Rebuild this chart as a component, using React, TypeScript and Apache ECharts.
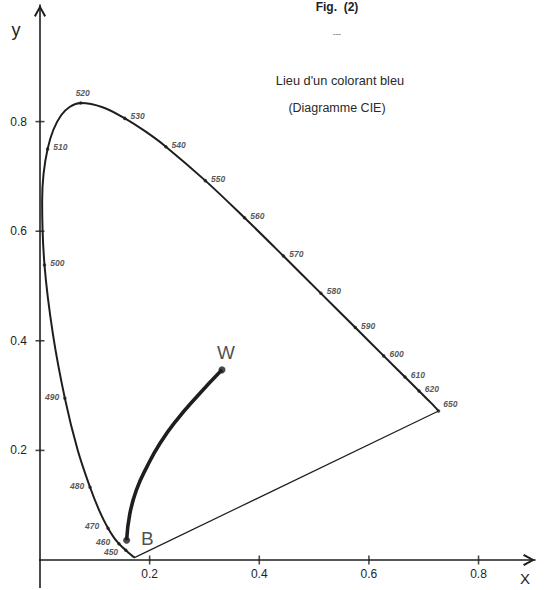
import React, { useEffect, useRef } from "react";
import * as echarts from "echarts";

// Spectral locus of the CIE 1931 diagram (wavelength in nm, chromaticity x, y)
const locusNm = [400, 420, 440, 450, 455, 460, 465, 470, 475, 480, 485, 490, 495, 500, 505, 510, 515, 520, 525, 530, 535, 540, 550, 560, 570, 580, 590, 600, 610, 620, 630, 640, 650];
const locusX = [0.1733, 0.1714, 0.1644, 0.1566, 0.151, 0.144, 0.1355, 0.1241, 0.1096, 0.0913, 0.0687, 0.0454, 0.0235, 0.0082, 0.0039, 0.0139, 0.0389, 0.0743, 0.1142, 0.1547, 0.1929, 0.2296, 0.3016, 0.3731, 0.4441, 0.5125, 0.5752, 0.627, 0.6658, 0.6915, 0.7079, 0.719, 0.727];
const locusY = [0.0048, 0.0051, 0.0109, 0.0177, 0.0227, 0.0297, 0.0399, 0.0578, 0.0868, 0.1327, 0.2007, 0.295, 0.4127, 0.5384, 0.6548, 0.7502, 0.812, 0.8338, 0.8262, 0.8059, 0.7816, 0.7543, 0.6923, 0.6245, 0.5547, 0.4866, 0.4242, 0.3725, 0.334, 0.3083, 0.292, 0.2809, 0.272];

// Wavelengths that carry a dot and a label on the locus
const markedNm = [450, 460, 470, 480, 490, 500, 510, 520, 530, 540, 550, 560, 570, 580, 590, 600, 610, 620, 650];

// Locus of the blue colorant, from B (full strength) to W (white)
const blueX = [0.158, 0.164, 0.176, 0.195, 0.219, 0.249, 0.286, 0.332];
const blueY = [0.036, 0.085, 0.128, 0.17, 0.213, 0.255, 0.298, 0.347];

const tickValues = [0.2, 0.4, 0.6, 0.8];

// Axes run a little past the origin on the negative side
const xStub = -0.018;
const yStub = -0.051;

const INK = "#1e1e1e";
const FONT = "'Liberation Sans', 'DejaVu Sans', sans-serif";

const arrowPath = "path://M5,0 L10,9 L8.6,10 L5,3.2 L1.4,10 L0,9 Z";

function labelPlacement(nm: number) {
  if (nm === 520) return { position: "top", offset: [2, -1] };
  if (nm === 650) return { position: "right", offset: [0, -7] };
  if (nm === 450) return { position: "left", offset: [-3, 2] };
  if (nm === 460 || nm === 470) return { position: "left", offset: [-4, -2] };
  if (nm <= 490) return { position: "left", offset: [-1, -1] };
  return { position: "right", offset: [1, -2] };
}

export default function App() {
  const ref = useRef<HTMLDivElement>(null);

  useEffect(() => {
    if (!ref.current) return;
    const chart = echarts.init(ref.current, undefined, { renderer: "svg" });

    const locus = locusNm.map((_, i) => [locusX[i], locusY[i]]);
    const marked = markedNm.map((nm) => {
      const i = locusNm.indexOf(nm);
      const p = labelPlacement(nm);
      return {
        value: [locusX[i], locusY[i]],
        name: String(nm),
        label: { position: p.position, offset: p.offset },
      };
    });
    const purple = [locus[locus.length - 1], locus[0]];
    const blue = blueX.map((x, i) => [x, blueY[i]]);
    const ends = [
      { value: blue[0], name: "B", label: { position: "right", offset: [6, -2] } },
      { value: blue[blue.length - 1], name: "W", label: { position: "top", offset: [4, 1] } },
    ];

    const axisLabel = {
      customValues: tickValues,
      formatter: (v: number) => v.toFixed(1),
      fontSize: 12,
      color: INK,
      fontFamily: FONT,
    };
    const axisLine = {
      lineStyle: { color: INK, width: 1.6 },
      symbol: ["none", arrowPath],
      symbolSize: [13, 12],
      symbolOffset: [0, -6],
    };
    const stubStyle = { color: INK, width: 1.6 };

    chart.setOption({
      animation: false,
      backgroundColor: "#ffffff",
      grid: { left: 40, right: 12, top: 5, bottom: 30, containLabel: false, outerBoundsMode: "none" },
      xAxis: {
        type: "value",
        min: 0,
        max: 0.903,
        splitLine: { show: false },
        axisTick: { show: false },
        axisLine,
        axisLabel: { ...axisLabel, margin: 8 },
      },
      yAxis: {
        type: "value",
        min: 0,
        max: 1.0128,
        splitLine: { show: false },
        axisTick: { show: false },
        axisLine,
        axisLabel: { ...axisLabel, margin: 13 },
      },
      graphic: [
        { type: "text", x: 337, y: 7, style: { text: "Fig.  (2)", fontSize: 12, fontWeight: "bold", fill: "#222", fontFamily: FONT, align: "center", verticalAlign: "middle" } },
        { type: "text", x: 337, y: 33, style: { text: "---", fontSize: 8, fill: "#444", fontFamily: FONT, align: "center", verticalAlign: "middle" } },
        { type: "text", x: 340, y: 80, style: { text: "Lieu d'un colorant bleu", fontSize: 12.8, fill: "#2a2a2a", fontFamily: FONT, align: "center", verticalAlign: "middle" } },
        { type: "text", x: 337, y: 108, style: { text: "(Diagramme CIE)", fontSize: 12.5, fill: "#2a2a2a", fontFamily: FONT, align: "center", verticalAlign: "middle" } },
        { type: "text", x: 16, y: 30, style: { text: "y", fontSize: 18, fill: INK, fontFamily: FONT, align: "center", verticalAlign: "middle" } },
        { type: "text", x: 525, y: 578, style: { text: "X", fontSize: 15, fill: INK, fontFamily: FONT, align: "center", verticalAlign: "middle" } },
      ],
      series: [
        {
          type: "line",
          data: [[0, 0], [0, yStub]],
          symbol: "none",
          lineStyle: stubStyle,
          clip: false,
          silent: true,
        },
        {
          type: "line",
          data: [[0, 0], [xStub, 0]],
          symbol: "none",
          lineStyle: stubStyle,
          clip: false,
          silent: true,
        },
        {
          type: "line",
          data: locus,
          smooth: 0.35,
          symbol: "none",
          lineStyle: { color: INK, width: 2 },
          clip: false,
        },
        {
          type: "line",
          data: purple,
          symbol: "none",
          lineStyle: { color: INK, width: 1.2 },
        },
        {
          type: "scatter",
          data: marked,
          symbol: "circle",
          symbolSize: 3.5,
          itemStyle: { color: INK },
          label: {
            show: true,
            formatter: (p: any) => p.name,
            fontSize: 8.5,
            fontStyle: "italic",
            fontWeight: "bold",
            color: "#2a2a2a",
            fontFamily: FONT,
            distance: 3,
          },
          z: 3,
        },
        {
          type: "line",
          data: blue,
          smooth: true,
          symbol: "none",
          lineStyle: { color: INK, width: 3.6 },
        },
        {
          type: "scatter",
          data: ends,
          symbol: "circle",
          symbolSize: 7,
          itemStyle: { color: INK },
          label: {
            show: true,
            formatter: (p: any) => p.name,
            fontSize: 19,
            color: INK,
            fontFamily: FONT,
          },
          z: 4,
        },
        {
          type: "scatter",
          data: tickValues.map((v) => [v, 0]),
          symbol: "rect",
          symbolSize: [1.6, 9],
          itemStyle: { color: INK },
          silent: true,
          clip: false,
        },
        {
          type: "scatter",
          data: tickValues.map((v) => [0, v]),
          symbol: "rect",
          symbolSize: [9, 1.6],
          itemStyle: { color: INK },
          silent: true,
          clip: false,
        },
      ],
    });

    return () => chart.dispose();
  }, []);

  return (
    <div
      ref={ref}
      style={{ position: "fixed", left: 0, top: 0, width: 547, height: 590, background: "#fff" }}
    />
  );
}
